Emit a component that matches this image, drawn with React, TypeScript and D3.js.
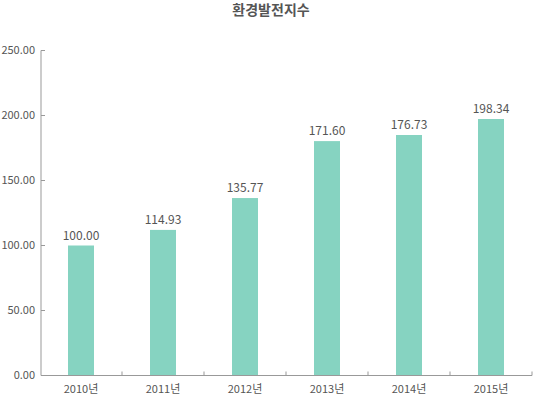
import React from "react";
import * as d3 from "d3";

// values
const years = ["2010년", "2011년", "2012년", "2013년", "2014년", "2015년"];
const barValues = [100, 112, 136.5, 180.3, 185, 197.3];
const labelValues = ["100.00", "114.93", "135.77", "171.60", "176.73", "198.34"];
const yTicks = [0, 50, 100, 150, 200, 250];

const W = 533;
const H = 396;
const font = "'Noto Sans CJK KR', 'Noto Sans', sans-serif";

const App = () => {
  const x = d3.scaleBand().domain(years).range([40, 532]);
  const y = d3.scaleLinear().domain([0, 250]).range([375.5, 50.5]);
  const barW = 26;
  const axisColor = "#999";
  const textColor = "#555";

  return (
    <div style={{ position: "absolute", left: 0, top: 0 }}>
      <svg width={W} height={H} style={{ display: "block", fontFamily: font }}>
        <text
          x={271}
          y={15}
          textAnchor="middle"
          fontSize={14}
          fontWeight="bold"
          fill={textColor}
        >
          환경발전지수
        </text>

        {/* y axis */}
        <line x1={41} x2={41} y1={y(250)} y2={y(0)} stroke={axisColor} />
        {yTicks.map((t) => (
          <g key={t}>
            <line x1={41} x2={45} y1={y(t)} y2={y(t)} stroke={axisColor} />
            <text
              x={35}
              y={y(t)}
              dy="0.35em"
              textAnchor="end"
              fontSize={11}
              fill={textColor}
            >
              {t.toFixed(2)}
            </text>
          </g>
        ))}

        {/* bars */}
        {years.map((yr, i) => {
          const cx = (x(yr) as number) + x.bandwidth() / 2;
          return (
            <g key={yr}>
              <rect
                x={cx - barW / 2}
                y={y(barValues[i])}
                width={barW}
                height={y(0) - y(barValues[i])}
                fill="#86d3c1"
              />
              <text
                x={cx}
                y={y(barValues[i]) - 6}
                textAnchor="middle"
                fontSize={12}
                fill={textColor}
              >
                {labelValues[i]}
              </text>
              <text
                x={cx}
                y={393}
                textAnchor="middle"
                fontSize={11}
                fill={textColor}
              >
                {yr}
              </text>
            </g>
          );
        })}

        {/* x axis */}
        <line x1={41} x2={532} y1={y(0)} y2={y(0)} stroke={axisColor} />
        {years.map((yr, i) => (
          <line
            key={yr}
            x1={(x(yr) as number) + x.bandwidth()}
            x2={(x(yr) as number) + x.bandwidth()}
            y1={y(0)}
            y2={y(0) - 4}
            stroke={axisColor}
          />
        ))}
      </svg>
    </div>
  );
};

export default App;
